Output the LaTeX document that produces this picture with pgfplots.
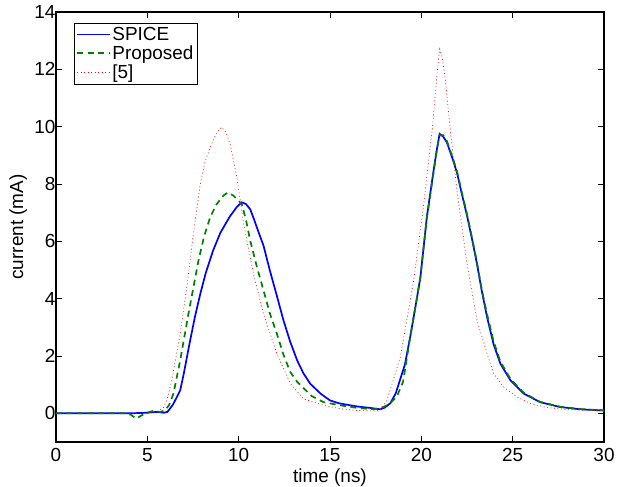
\documentclass[border=0pt]{standalone}
\usepackage{fontspec}
\setmainfont{Liberation Sans}
\usepackage{pgfplots}
\pgfplotsset{compat=1.18}
\definecolor{mblue}{RGB}{0,0,255}
\definecolor{mgreen}{RGB}{0,128,0}
\definecolor{mred}{RGB}{255,0,0}
\newcommand{\figfont}{\fontsize{19}{22}\selectfont}

\begin{document}
\begin{tikzpicture}
\begin{axis}[
    scale only axis,
    width=548bp, height=430bp,
    xmin=0, xmax=30, ymin=-1, ymax=14,
    xtick={0,5,...,30},
    ytick={0,2,...,14},
    tick align=inside,
    major tick length=6bp,
    every tick/.append style={black, line width=0.8bp},
    axis line style={black, line width=1.1bp},
    tick label style={font=\figfont},
    xticklabel style={yshift=-3bp},
    yticklabel style={xshift=3bp},
    label style={font=\figfont},
    /pgf/number format/assume math mode=true,
    xlabel={time (ns)},
    ylabel={current (mA)},
    xlabel style={at={(axis description cs:0.5,-0.083)}, anchor=center},
    ylabel style={at={(axis description cs:-0.069,0.5)}, anchor=center},
    legend style={at={(axis description cs:0.033,0.975)}, anchor=north west,
        draw=black, inner sep=2bp, row sep=0bp, font=\figfont},
    legend cell align=left,
    legend image code/.code={\draw[#1, line width=1.5bp] (0cm,0cm) -- (1.15cm,0cm);},
]
% SPICE
\addplot[color=mblue, line width=1.7bp] coordinates {
(0,0) (1,0) (2,0) (3,0) (4,0) (5,0.02) (5.5,0.05) (5.9,0.02) (6.1,0.05) (6.4,0.3)
(6.8,0.8) (7.0,1.4) (7.3,2.4) (7.6,3.35) (7.9,4.17) (8.2,4.9) (8.6,5.68) (9.0,6.3)
(9.5,6.85) (9.9,7.2) (10.17,7.36) (10.4,7.3) (10.63,7.12) (10.85,6.75) (11.1,6.3)
(11.36,5.85) (11.7,5.0) (12.09,4.1) (12.45,3.25) (12.82,2.5) (13.2,1.85) (13.55,1.39)
(13.92,1.03) (14.5,0.68) (15.0,0.45) (15.5,0.35) (16.1,0.28) (16.6,0.23) (17.2,0.19)
(17.75,0.14) (18.0,0.2) (18.3,0.35) (18.6,0.7) (18.85,1.2) (19.1,1.7) (19.4,2.7)
(19.7,3.8) (19.95,4.75) (20.3,6.84) (20.67,8.47) (20.85,9.2) (21.0,9.75) (21.2,9.65)
(21.4,9.45) (21.7,8.9) (21.95,8.4) (22.2,7.7) (22.5,6.9) (22.8,6.0) (23.05,5.2)
(23.3,4.3) (23.6,3.35) (23.96,2.4) (24.33,1.73) (24.88,1.15) (25.6,0.69) (26.5,0.39)
(27.6,0.22) (28.7,0.14) (30,0.1)
};
\addlegendentry{SPICE}
% Proposed
\addplot[color=mgreen, line width=1.7bp, dash pattern=on 6bp off 4.5bp] coordinates {
(0,0) (1,0) (2,0) (3,0) (3.8,0) (4.1,-0.05) (4.4,-0.19) (4.6,-0.1) (4.97,0.02)
(5.3,0.08) (5.7,0.05) (5.97,0.1) (6.2,0.3) (6.43,0.69) (6.8,1.85) (7.25,3.47)
(7.8,5.33) (8.1,6.15) (8.44,6.84) (8.8,7.3) (9.17,7.6) (9.4,7.7) (9.7,7.6) (10.17,7.3)
(10.4,6.75) (10.63,6.03) (11.0,5.1) (11.36,4.29) (11.7,3.5) (12.09,2.78) (12.45,2.05)
(12.82,1.45) (13.2,1.1) (13.55,0.88) (14.0,0.6) (14.65,0.39) (15.56,0.28) (16.47,0.19)
(17.4,0.14) (17.94,0.22) (18.3,0.35) (18.67,0.6) (19.0,1.1) (19.4,2.7) (19.7,3.8)
(19.95,4.75) (20.3,6.8) (20.67,8.4) (20.85,9.2) (21.0,9.7) (21.2,9.7) (21.4,9.5)
(21.7,8.95) (21.95,8.45) (22.2,7.75) (22.5,6.95) (22.8,6.05) (23.05,5.25) (23.3,4.35)
(23.6,3.45) (23.96,2.5) (24.33,1.8) (24.88,1.2) (25.6,0.72) (26.5,0.4) (27.6,0.23)
(28.7,0.15) (30,0.1)
};
\addlegendentry{Proposed}
% [5]
\addplot[color=mred, line width=0.6bp, dash pattern=on 1bp off 2.5bp] coordinates {
(0,0) (1,0) (2,0) (3,0) (4,0) (5.0,0) (5.5,0.05) (5.88,0.2) (6.06,0.45) (6.34,1.15)
(6.8,2.78) (7.16,4.4) (7.52,6.26) (7.9,8.0) (8.15,8.75) (8.44,9.28) (8.8,9.8) (9.08,9.98)
(9.3,9.8) (9.53,9.4) (9.9,8.24) (10.27,6.61) (10.81,4.87) (11.36,3.47) (12.09,2.08)
(12.82,1.05) (13.55,0.5) (14.65,0.28) (15.56,0.16) (16.47,0.1) (17.57,0.08) (17.8,0.15)
(18.12,0.45) (18.85,1.96) (19.58,4.63) (20.13,7.3) (20.59,9.86) (20.86,11.84) (21.0,12.71)
(21.15,12.4) (21.32,11.6) (21.59,9.86) (21.95,7.77) (22.5,5.22) (23.05,3.24)
(23.6,2.08) (23.96,1.38) (24.5,0.92) (25.24,0.57) (25.97,0.34) (26.9,0.2) (28,0.13)
(30,0.08)
};
\addlegendentry{[5]}
\end{axis}
\pgfresetboundingbox
\path[use as bounding box] (current axis.south west) ++(-56bp,-45bp) rectangle ([shift={(25bp,12bp)}]current axis.north east);
\end{tikzpicture}
\end{document}
